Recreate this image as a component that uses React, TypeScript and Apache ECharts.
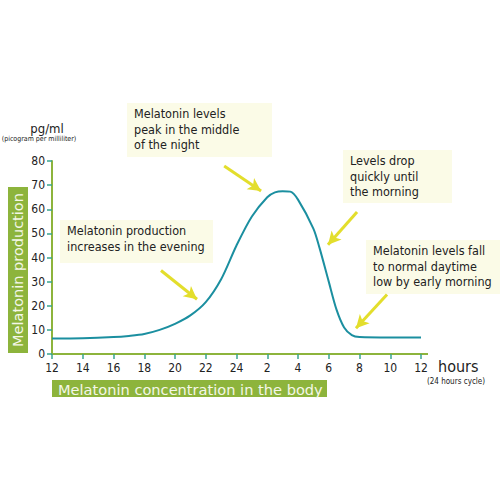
import React, { useEffect, useRef } from "react";
import * as echarts from "echarts";

const hours = [12, 14, 16, 17, 18, 19, 20, 21, 22, 23, 24, 25, 26, 26.5, 27, 27.5, 28, 29, 29.4, 30, 30.5, 31, 31.5, 32, 34, 36];
const melatonin = [6.4, 6.5, 7.0, 7.5, 8.3, 10, 12.5, 16, 21.5, 31, 45, 57, 65, 67, 67.5, 67.3, 64, 52, 44, 30, 18.5, 11, 7.8, 7.0, 6.8, 6.8];

const xTicks = [12, 14, 16, 18, 20, 22, 24, 26, 28, 30, 32, 34, 36];
const yTicks = [0, 10, 20, 30, 40, 50, 60, 70, 80];

// arrows: [startHour, startValue, endHour, endValue]
const arrows = [
  [23.2, 77.9, 25.6, 67.6],
  [31.84, 58.9, 29.95, 45.3],
  [33.79, 24.7, 31.77, 10.7],
  [19.09, 34.6, 21.43, 22.7],
];

const notes = [
  { lines: ["Melatonin levels", "peak in the middle", "of the night"], box: [127, 103, 145, 54] },
  { lines: ["Levels drop", "quickly until", "the morning"], box: [343, 150, 109, 53] },
  { lines: ["Melatonin levels fall", "to normal daytime", "low by early morning"], box: [366, 240, 134, 54] },
  { lines: ["Melatonin production", "increases in the evening"], box: [60, 220, 153, 43] },
];

const FONT = "'DejaVu Sans Condensed', 'Liberation Sans', sans-serif";
const WIDE = "'DejaVu Sans', Verdana, sans-serif";
const GREEN = "#8db43c";
const TEAL = "#1b8fa0";
const TICK = "#3aa58f";

export default function App() {
  const ref = useRef<HTMLDivElement>(null);
  useEffect(() => {
    if (!ref.current) return;
    const chart = echarts.init(ref.current, undefined, { renderer: "svg" });
    const graphics: any[] = [];
    notes.forEach((n) => {
      const [x, y, w, h] = n.box;
      graphics.push({ type: "rect", shape: { x, y, width: w, height: h }, style: { fill: "#fbfbe7" }, z: 1 });
      graphics.push({
        type: "text",
        x: x + 7,
        y: y + 3,
        style: { text: n.lines.join("\n"), font: `12.5px ${FONT}`, fill: "#222", lineHeight: 15.5, verticalAlign: "top" },
        z: 2,
      });
    });
    graphics.push({ type: "rect", shape: { x: 8, y: 187, width: 20, height: 166 }, style: { fill: GREEN } });
    graphics.push({
      type: "text",
      x: 18,
      y: 270,
      rotation: Math.PI / 2,
      style: { text: "Melatonin production", font: `14.5px ${WIDE}`, fill: "#f4f7e8", align: "center", verticalAlign: "middle" },
    });
    graphics.push({ type: "rect", shape: { x: 52, y: 380, width: 275, height: 17 }, style: { fill: GREEN } });
    graphics.push({
      type: "text",
      x: 58,
      y: 389,
      style: { text: "Melatonin concentration in the body", font: `14.6px ${WIDE}`, fill: "#f4f7e8", verticalAlign: "middle" },
    });
    graphics.push({ type: "text", x: 47, y: 128, style: { text: "pg/ml", font: `13px ${FONT}`, fill: "#222", align: "center", verticalAlign: "middle" } });
    graphics.push({ type: "text", x: 39, y: 139, style: { text: "(picogram per milliliter)", font: `7px ${FONT}`, fill: "#222", align: "center", verticalAlign: "middle" } });
    graphics.push({ type: "text", x: 438, y: 366, style: { text: "hours", font: `16px ${FONT}`, fill: "#222", verticalAlign: "middle" } });
    graphics.push({ type: "text", x: 456, y: 381, style: { text: "(24 hours cycle)", font: `8px ${FONT}`, fill: "#222", align: "center", verticalAlign: "middle" } });
    graphics.push({ type: "line", shape: { x1: 420, y1: 354, x2: 428, y2: 354 }, style: { stroke: GREEN, lineWidth: 2 } });

    chart.setOption({
      animation: false,
      grid: { left: 52, right: 79, top: 161, bottom: 146 },
      xAxis: {
        type: "value",
        min: 12,
        max: 36,
        interval: 2,
        splitLine: { show: false },
        axisLine: { lineStyle: { color: GREEN, width: 2 } },
        axisTick: { show: true, length: 5, lineStyle: { color: TICK, width: 1.5 } },
        axisLabel: {
          margin: 8,
          color: "#222",
          fontSize: 12,
          fontFamily: FONT,
          formatter: (v: number) => (xTicks.includes(v) ? String(v > 24 ? v - 24 : v) : ""),
        },
      },
      yAxis: {
        type: "value",
        min: 0,
        max: 80,
        interval: 10,
        splitLine: { show: false },
        axisLine: { show: true, lineStyle: { color: GREEN, width: 2 } },
        axisTick: { show: true, length: 5, lineStyle: { color: TICK, width: 1.5 } },
        axisLabel: {
          margin: 7,
          color: "#222",
          fontSize: 12,
          fontFamily: FONT,
          formatter: (v: number) => (yTicks.includes(v) ? String(v) : ""),
        },
      },
      series: [
        {
          type: "line",
          data: hours.map((h, i) => [h, melatonin[i]]),
          smooth: 0.3,
          showSymbol: false,
          lineStyle: { color: TEAL, width: 2 },
          z: 3,
          markLine: {
            silent: true,
            symbol: ["none", "arrow"],
            symbolSize: [10, 13],
            label: { show: false },
            lineStyle: { color: "#e3de2c", width: 3, type: "solid" },
            data: arrows.map((a) => [{ coord: [a[0], a[1]] }, { coord: [a[2], a[3]] }]),
          },
        },
      ],
      graphic: graphics,
    });
    return () => chart.dispose();
  }, []);
  return <div ref={ref} style={{ position: "fixed", left: 0, top: 0, width: 500, height: 500, background: "#fff" }} />;
}
